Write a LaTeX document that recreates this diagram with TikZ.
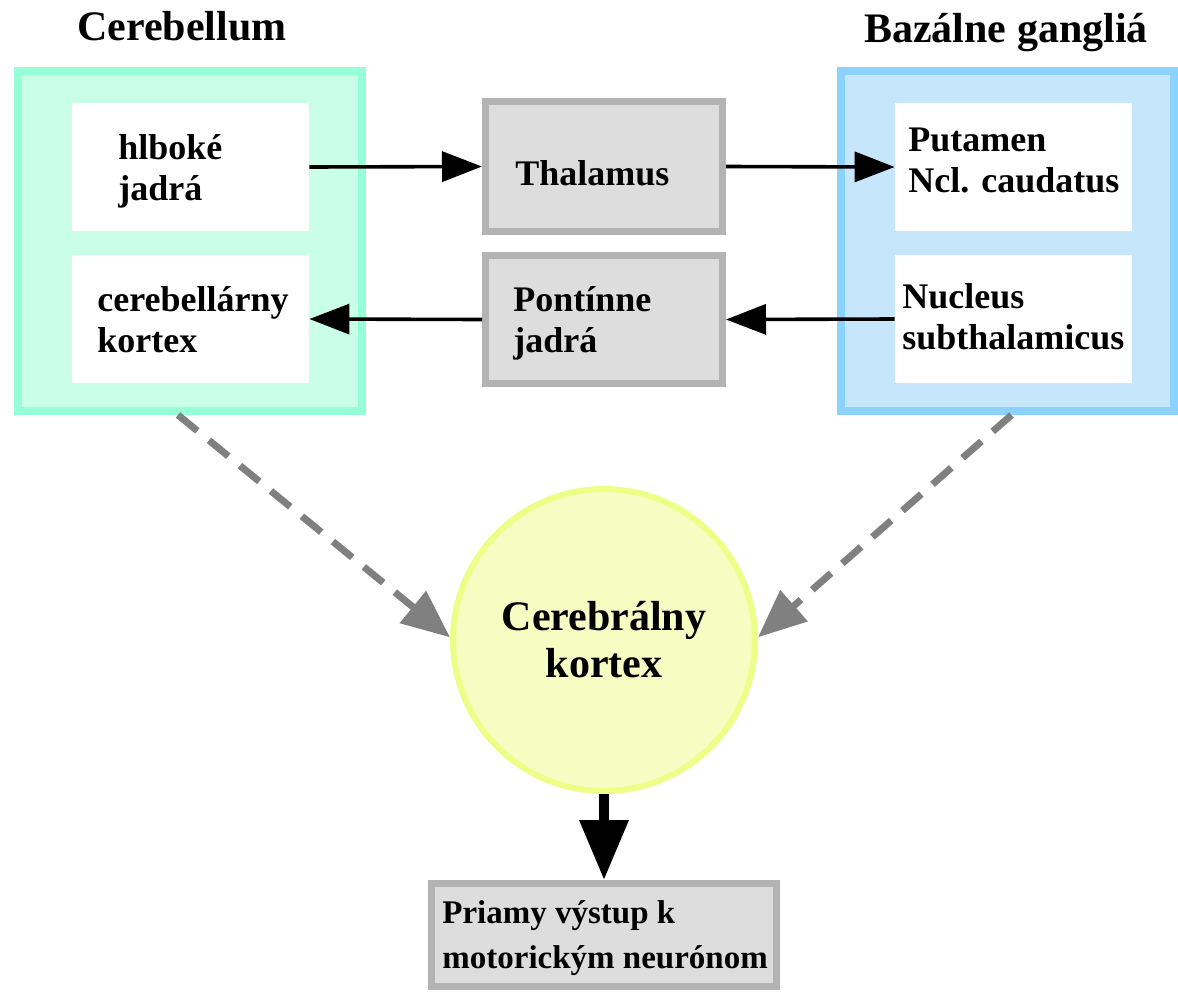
\documentclass[tikz,border=0pt]{standalone}
\usepackage{fontspec}
\setmainfont{LiberationSerif}[Extension=.ttf, UprightFont=*-Regular, BoldFont=*-Bold,
    ItalicFont=*-Italic, BoldItalicFont=*-BoldItalic]
\usetikzlibrary{arrows.meta,positioning}

\definecolor{mintline}{HTML}{96FFD8}
\definecolor{mintfill}{HTML}{C9FFE9}
\definecolor{skyline}{HTML}{8CD2FE}
\definecolor{skyfill}{HTML}{C6E7FB}
\definecolor{greyline}{HTML}{B3B3B3}
\definecolor{greyfill}{HTML}{DDDDDD}
\definecolor{lemonline}{HTML}{EEFF88}
\definecolor{lemonfill}{HTML}{F6FCC2}
\definecolor{dashgrey}{HTML}{808080}

\tikzset{
    group/.style={draw=#1line, fill=#1fill, line width=4pt, minimum height=170pt},
    core/.style={fill=white, minimum width=118.5pt, minimum height=64pt},
    relay/.style={draw=greyline, fill=greyfill, line width=3.5pt, minimum width=118.5pt},
    lbl/.style={inner sep=0pt, align=left, font=\rmfamily\bfseries\fontsize{18}{20.5}\selectfont},
    title/.style={inner sep=0pt, font=\rmfamily\bfseries\fontsize{21}{24}\selectfont},
    arr/.style={line width=1.8pt, -{Triangle[length=20pt,width=15pt]}},
    dasharr/.style={draw=dashgrey, line width=3.5pt, dash pattern=on 12.5pt off 7.5pt,
        -{Triangle[length=24pt,width=20pt]}},
    bigarr/.style={line width=5pt, -{Triangle[length=30pt,width=23.5pt]}}
}

\begin{document}
\begin{tikzpicture}[x=0.5pt, y=-0.5pt]
    \useasboundingbox (0,0) rectangle (1178,991);

    % Cerebellum
    \node[group=mint, minimum width=172pt] (cer) at (190,241) {};
    \node[title, anchor=base] (tcer) at (182,40) {Cerebellum};
    \node[core] (hlb) at (190.5,167) {};
    \node[core] (cbx) at (190.5,319) {};
    \node[lbl, anchor=west] (thlb) at (118,171) {hlboké\\jadrá};
    \node[lbl, anchor=west] (tcbx) at (97,320) {cerebellárny\\kortex};

    % Bazalne ganglia
    \node[group=sky, minimum width=166.5pt] (bg) at (1007.5,241) {};
    \node[title, anchor=base] (tbg) at (1006,42) {Bazálne gangliá};
    \node[core] (put) at (1013.5,167) {};
    \node[core] (nuc) at (1013.5,319) {};
    \node[lbl, anchor=west] (tput) at (908,160) {Putamen\\Ncl. caudatus};
    \node[lbl, anchor=west] (tnuc) at (902,317) {Nucleus\\subthalamicus};

    % relay nuclei
    \node[relay, minimum height=65pt] (thal) at (604,166.5) {};
    \node[relay, minimum height=64pt] (pont) at (604,319.5) {};
    \node[lbl, anchor=west] (tthal) at (515,173) {Thalamus};
    \node[lbl, anchor=west] (tpont) at (513,323) {Pontínne\\jadrá};

    \node[circle, draw=lemonline, fill=lemonfill, line width=3pt, minimum size=151pt,
        align=center, font=\rmfamily\bfseries\fontsize{21}{23.5}\selectfont] (ctx) at (604,640)
        {Cerebrálny\\kortex};

    \node[relay, minimum width=172.5pt, minimum height=51.5pt] (mot) at (604,935) {};
    \node[lbl, anchor=west, font=\rmfamily\bfseries\fontsize{16.5}{22.5}\selectfont] (tmot) at (442,938)
        {Priamy výstup k\\motorickým neurónom};

    \draw[arr] (hlb.east) -- (thal.west);
    \draw[arr] (thal.east) -- (put.west);
    \draw[arr] (nuc.west) -- (pont.east);
    \draw[arr] (pont.west) -- (cbx.east);

    \draw[dasharr] ([xshift=-6pt]cer.south) -- (ctx.179);
    \draw[dasharr] ([xshift=2pt]bg.south) -- (ctx.1);
    \draw[bigarr] (ctx.south) -- (mot.north);
\end{tikzpicture}
\end{document}
